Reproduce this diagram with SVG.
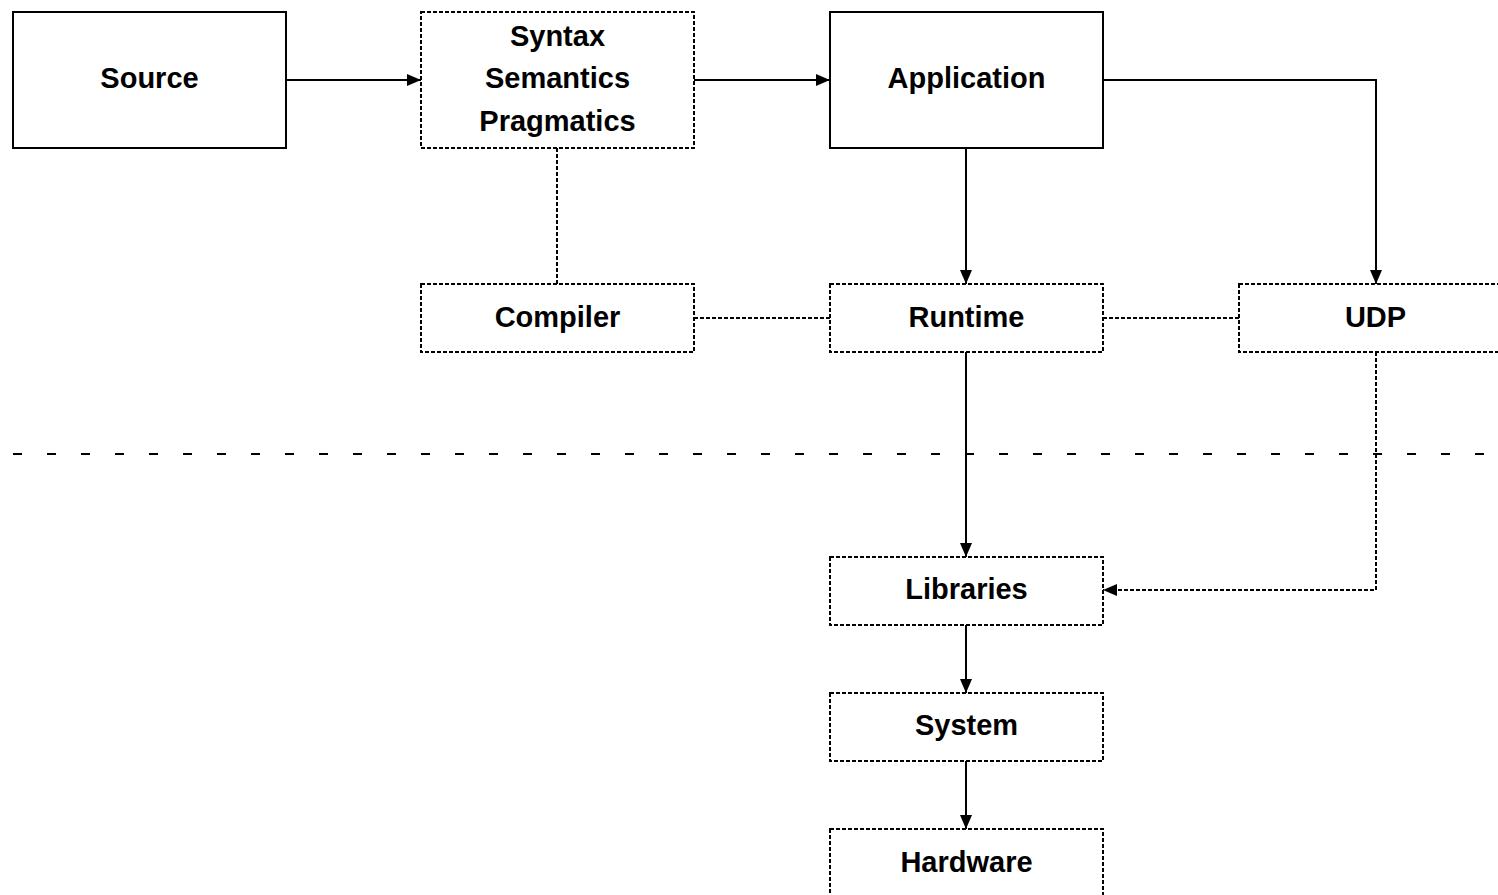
<svg xmlns="http://www.w3.org/2000/svg" width="1498" height="895" viewBox="0 0 1498 895">
  <style>
    .box { fill: #ffffff; stroke: #000000; stroke-width: 2; }
    .dotted { stroke-dasharray: 4 2; }
    .label { font-family: "Liberation Sans", Arial, sans-serif; font-weight: bold; font-size: 29px; fill: #000000; text-anchor: middle; }
    .edge { fill: none; stroke: #000000; stroke-width: 2; }
    .sep { fill: none; stroke: #000000; stroke-width: 2; stroke-dasharray: 9 25; }
  </style>
  <defs>
    <marker id="arrow" viewBox="0 0 14 12" refX="14" refY="6" markerWidth="14" markerHeight="12" markerUnits="userSpaceOnUse" orient="auto">
      <path d="M0,0 L14,6 L0,12 Z" fill="#000000"/>
    </marker>
  </defs>

  <rect width="1498" height="895" fill="#ffffff"/>

  <!-- layer separator -->
  <line class="sep" x1="13" y1="454" x2="1498" y2="454"/>

  <g id="connectors">
    <line class="edge" x1="286" y1="80" x2="421" y2="80" marker-end="url(#arrow)"/>
    <line class="edge" x1="694" y1="80" x2="830" y2="80" marker-end="url(#arrow)"/>
    <polyline class="edge" points="1103,80 1376,80 1376,284" marker-end="url(#arrow)"/>
    <line class="edge" x1="966" y1="148" x2="966" y2="284" marker-end="url(#arrow)"/>
    <line class="edge dotted" x1="557" y1="148" x2="557" y2="284"/>
    <line class="edge dotted" x1="694" y1="318" x2="830" y2="318"/>
    <line class="edge dotted" x1="1103" y1="318" x2="1239" y2="318"/>
    <line class="edge" x1="966" y1="352" x2="966" y2="557" marker-end="url(#arrow)"/>
    <polyline class="edge dotted" points="1376,352 1376,590 1103,590" marker-end="url(#arrow)"/>
    <line class="edge" x1="966" y1="625" x2="966" y2="693" marker-end="url(#arrow)"/>
    <line class="edge" x1="966" y1="761" x2="966" y2="829" marker-end="url(#arrow)"/>
  </g>

  <g id="source">
    <rect class="box" x="13" y="12" width="273" height="136"/>
    <text class="label" x="149.5" y="88">Source</text>
  </g>

  <g id="language">
    <rect class="box dotted" x="421" y="12" width="273" height="136"/>
    <text class="label" x="557.5" y="46">Syntax</text>
    <text class="label" x="557.5" y="88">Semantics</text>
    <text class="label" x="557.5" y="131">Pragmatics</text>
  </g>

  <g id="application">
    <rect class="box" x="830" y="12" width="273" height="136"/>
    <text class="label" x="966.5" y="88">Application</text>
  </g>

  <g id="compiler">
    <rect class="box dotted" x="421" y="284" width="273" height="68"/>
    <text class="label" x="557.5" y="327">Compiler</text>
  </g>

  <g id="runtime">
    <rect class="box dotted" x="830" y="284" width="273" height="68"/>
    <text class="label" x="966.5" y="327">Runtime</text>
  </g>

  <g id="udp">
    <rect class="box dotted" x="1239" y="284" width="273" height="68"/>
    <text class="label" x="1375.5" y="327">UDP</text>
  </g>

  <g id="libraries">
    <rect class="box dotted" x="830" y="557" width="273" height="68"/>
    <text class="label" x="966.5" y="599">Libraries</text>
  </g>

  <g id="system">
    <rect class="box dotted" x="830" y="693" width="273" height="68"/>
    <text class="label" x="966.5" y="735">System</text>
  </g>

  <g id="hardware">
    <rect class="box dotted" x="830" y="829" width="273" height="68"/>
    <text class="label" x="966.5" y="872">Hardware</text>
  </g>
</svg>
